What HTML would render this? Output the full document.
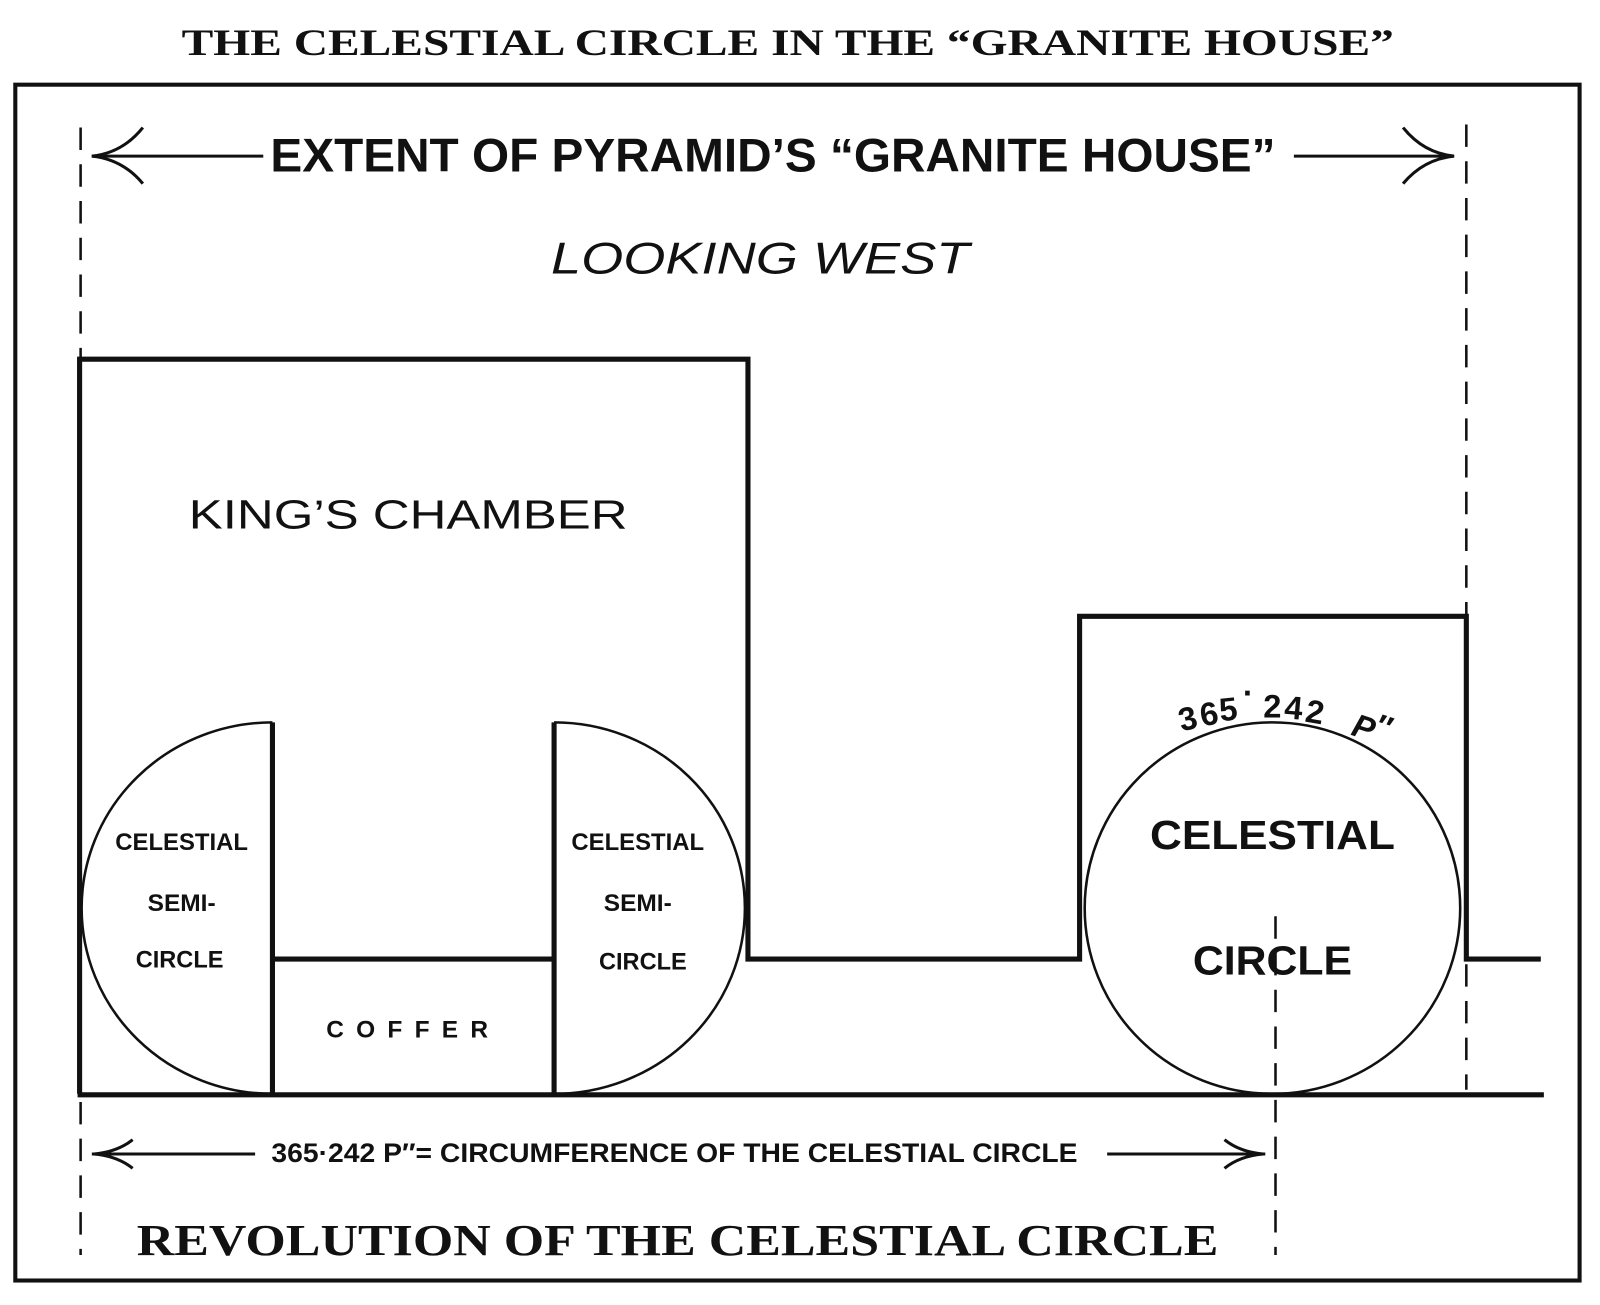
<!DOCTYPE html>
<html><head><meta charset="utf-8"><style>
html,body{margin:0;padding:0;background:#fff;}
svg{display:block;}
</style></head><body>
<svg width="1600" height="1305" viewBox="0 0 1568 1279" preserveAspectRatio="none" xmlns="http://www.w3.org/2000/svg">
<rect width="1568" height="1279" fill="#fff"/>
<g fill="#111" font-weight="bold">
<text x="178" y="54" font-family="Liberation Serif, serif" font-size="36" textLength="1188" lengthAdjust="spacingAndGlyphs">THE CELESTIAL CIRCLE IN THE “GRANITE HOUSE”</text>
</g>
<rect x="15" y="83" width="1533" height="1172" fill="none" stroke="#111" stroke-width="4"/>
<g stroke="#111" stroke-width="2.5" stroke-dasharray="22,14" fill="none">
<line x1="79" y1="125" x2="79" y2="350"/>
<line x1="79" y1="1080" x2="79" y2="1230"/>
<line x1="1437" y1="122" x2="1437" y2="602"/>
<line x1="1437" y1="945" x2="1437" y2="1068"/>
<line x1="1250" y1="898" x2="1250" y2="1230"/>
</g>
<g stroke="#111" stroke-width="3" fill="none">
<line x1="90" y1="153" x2="258" y2="153"/>
<path d="M140 125 Q120 150 90 153 Q120 156 140 180"/>
<line x1="1268" y1="153" x2="1425" y2="153"/>
<path d="M1375 125 Q1395 150 1425 153 Q1395 156 1375 180"/>
<line x1="90" y1="1131" x2="250" y2="1131"/>
<path d="M130 1117 Q115 1129 92 1131 Q115 1133 130 1145"/>
<line x1="1085" y1="1131" x2="1240" y2="1131"/>
<path d="M1200 1117 Q1215 1129 1238 1131 Q1215 1133 1200 1145"/>
</g>
<g stroke="#111" stroke-width="5" fill="none">
<path d="M78 1072 L78 352 L733 352 L733 940 L1058 940 L1058 604 L1437 604 L1437 940 L1510 940"/>
<line x1="76" y1="1073" x2="1513" y2="1073"/>
<line x1="267" y1="708" x2="267" y2="1072"/>
<line x1="543" y1="708" x2="543" y2="1072"/>
<line x1="267" y1="940" x2="543" y2="940"/>
</g>
<g stroke="#111" stroke-width="2.5" fill="none">
<path d="M267 708 A187 182 0 0 0 267 1072"/>
<path d="M543 708 A187 182 0 0 1 543 1072"/>
<ellipse cx="1247" cy="890" rx="184" ry="182"/>
</g>
<g fill="#111" font-family="Liberation Sans, sans-serif" font-weight="bold">
<text x="265" y="168" font-size="46" textLength="985" lengthAdjust="spacingAndGlyphs">EXTENT OF PYRAMID’S “GRANITE HOUSE”</text>
<text x="266" y="1139" font-size="26" textLength="790" lengthAdjust="spacingAndGlyphs">365·242 P″= CIRCUMFERENCE OF THE CELESTIAL CIRCLE</text>
<text x="178" y="833" font-size="24" text-anchor="middle" textLength="130" lengthAdjust="spacingAndGlyphs">CELESTIAL</text>
<text x="178" y="893" font-size="24" text-anchor="middle">SEMI-</text>
<text x="176" y="948" font-size="24" text-anchor="middle" textLength="86" lengthAdjust="spacingAndGlyphs">CIRCLE</text>
<text x="625" y="833" font-size="24" text-anchor="middle" textLength="130" lengthAdjust="spacingAndGlyphs">CELESTIAL</text>
<text x="625" y="893" font-size="24" text-anchor="middle">SEMI-</text>
<text x="630" y="950" font-size="24" text-anchor="middle" textLength="86" lengthAdjust="spacingAndGlyphs">CIRCLE</text>
<text x="405" y="1017" font-size="24" text-anchor="middle" letter-spacing="12">COFFER</text>
<text x="1247" y="832" font-size="40" text-anchor="middle" textLength="240" lengthAdjust="spacingAndGlyphs">CELESTIAL</text>
<text x="1247" y="955" font-size="40" text-anchor="middle" textLength="156" lengthAdjust="spacingAndGlyphs">CIRCLE</text>
<text font-size="32"><tspan x="1158" y="717" rotate="-14">3</tspan><tspan x="1178" y="712" rotate="-10">6</tspan><tspan x="1196" y="707" rotate="-6">5</tspan><tspan x="1218" y="690">·</tspan><tspan x="1238" y="703">2</tspan><tspan x="1258" y="704" rotate="5">4</tspan><tspan x="1278" y="707" rotate="10">2</tspan><tspan x="1323" y="720" rotate="18" font-style="italic">P″</tspan></text>
</g>
<g fill="#111">
<text x="745" y="268" font-family="Liberation Sans, sans-serif" font-size="44" font-style="italic" text-anchor="middle" textLength="410" lengthAdjust="spacingAndGlyphs">LOOKING WEST</text>
<text x="400" y="518" font-family="Liberation Sans, sans-serif" font-size="40" text-anchor="middle" textLength="430" lengthAdjust="spacingAndGlyphs">KING’S CHAMBER</text>
<text x="134" y="1230" font-family="Liberation Serif, serif" font-weight="bold" font-size="44" textLength="1060" lengthAdjust="spacingAndGlyphs">REVOLUTION OF THE CELESTIAL CIRCLE</text>
</g>
</svg>
</body></html>
